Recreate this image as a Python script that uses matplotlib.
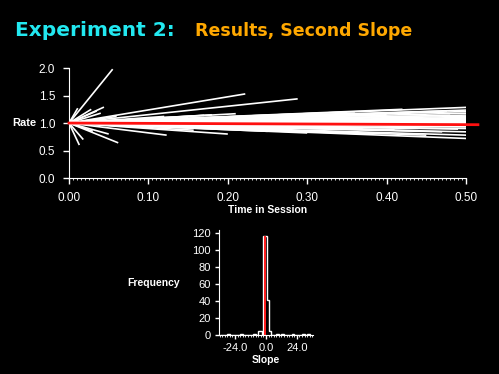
import numpy as np
import matplotlib
matplotlib.use("Agg")
import matplotlib.pyplot as plt
from matplotlib.ticker import MultipleLocator

plt.rcParams['font.family'] = ['Liberation Sans', 'DejaVu Sans']

# 上图：每条线从 (0, 1.0) 出发，到达 (end_x, end_y)
line_end_x = [0.055, 0.011, 0.044, 0.035, 0.028, 0.040, 0.013, 0.018, 0.062, 0.050,
              0.030, 0.060, 0.123, 0.157, 0.222, 0.288, 0.200, 0.180, 0.250, 0.150,
              0.300, 0.350, 0.380, 0.420, 0.450, 0.476, 0.330, 0.280, 0.400, 0.440,
              0.120, 0.140, 0.170, 0.190, 0.210, 0.230, 0.260, 0.270, 0.310, 0.320,
              0.340, 0.360, 0.370, 0.390, 0.410, 0.430, 0.460, 0.470, 0.480, 0.490,
              0.500, 0.500, 0.500, 0.500, 0.500, 0.500, 0.500, 0.500, 0.500, 0.500,
              0.500, 0.500, 0.500, 0.500, 0.500, 0.500, 0.500, 0.500, 0.500, 0.500,
              0.500, 0.500, 0.500, 0.500, 0.500, 0.500, 0.500, 0.500, 0.500, 0.500,
              0.500, 0.500, 0.500, 0.500, 0.500, 0.500]
line_end_y = [1.98, 1.27, 1.29, 1.22, 1.25, 1.18, 0.60, 0.70, 0.64, 0.80,
              0.85, 1.12, 0.78, 0.87, 1.53, 1.44, 0.80, 1.15, 0.85, 1.10,
              0.82, 1.20, 0.80, 1.25, 0.78, 1.22, 1.12, 0.88, 1.15, 0.86,
              1.12, 1.08, 1.14, 0.92, 1.17, 1.06, 1.13, 0.90, 1.16, 0.94,
              1.09, 1.18, 0.91, 1.11, 0.88, 1.19, 1.07, 0.84, 1.14, 0.89,
              1.285, 1.236, 1.21, 1.18, 1.145, 1.12, 1.10, 1.085, 1.07, 1.06,
              1.055, 1.05, 1.045, 1.04, 1.035, 1.03, 1.025, 1.02, 1.015, 1.01,
              1.00, 0.99, 0.985, 0.98, 0.975, 0.97, 0.965, 0.96, 0.955, 0.95,
              0.94, 0.93, 0.90, 0.84, 0.78, 0.72]
red_x = [0.0, 0.515]
red_y = [1.0, 0.97]

x_ticks = [0.0, 0.1, 0.2, 0.3, 0.4, 0.5]
x_labels = ['0.00', '0.10', '0.20', '0.30', '0.40', '0.50']
y_ticks = [0.0, 0.5, 1.0, 1.5, 2.0]

# 下图：斜率直方图
bin_edges = [-36, -30, -28, -20, -18, -10, -8, -6, -2.9, -2.3, 0.5, 2.1, 4.0,
             8, 10, 12, 14, 20, 22, 28, 30, 32, 34]
bin_counts = [0, 1, 0, 1, 0, 1, 0, 5, 0, 117, 41, 5,
              0, 1, 0, 1, 0, 1, 0, 1, 0, 1]
h_ticks = [-24, 0, 24]
h_labels = ['-24.0', '0.0', '24.0']
f_ticks = [0, 20, 40, 60, 80, 100, 120]

fig = plt.figure(figsize=(4.99, 3.74), dpi=100, facecolor='black')

fig.text(0.030, 0.918, 'Experiment 2:', color='#22e8f0', fontsize=14.5,
         fontweight='bold', ha='left', va='center', family='DejaVu Sans')
fig.text(0.391, 0.918, 'Results, Second Slope', color='#ffa800', fontsize=12.5,
         fontweight='bold', ha='left', va='center', family='DejaVu Sans')

# 上图
ax = fig.add_axes([0.1383, 0.524, 0.7956, 0.294], facecolor='black')
for ex, ey in zip(line_end_x, line_end_y):
    ax.plot([0, ex], [1.0, ey], color='white', lw=1.2, solid_capstyle='butt')
ax.plot(red_x, red_y, color='#ff1010', lw=2.0, clip_on=False, zorder=5)
ax.set_xlim(0, 0.5)
ax.set_ylim(0, 2.0)
ax.set_xticks(x_ticks)
ax.set_xticklabels(x_labels)
ax.set_yticks(y_ticks)
ax.xaxis.set_minor_locator(MultipleLocator(0.005))
for s in ['top', 'right']:
    ax.spines[s].set_visible(False)
for s in ['left', 'bottom']:
    ax.spines[s].set_color('white')
ax.tick_params(colors='white', labelsize=8.5, length=4, width=1, pad=6)
ax.tick_params(axis='x', which='minor', colors='white', length=1.5)
ax.set_xlabel('Time in Session', color='white', fontsize=7.5,
              fontweight='bold', labelpad=1)
ax.set_ylabel('Rate', color='white', fontsize=8, fontweight='bold',
              rotation=0, ha='right', va='center')
ax.yaxis.set_label_coords(-0.082, 0.5)

# 下图
bx = fig.add_axes([0.439, 0.104, 0.188, 0.281], facecolor='black')
bx.stairs(bin_counts, bin_edges, color='white', lw=1.0)
bx.bar([-0.9], [117], width=1.2, color='#ff2020', align='center')
bx.set_xlim(-36.4, 36.4)
bx.set_ylim(0, 124)
bx.set_xticks(h_ticks)
bx.set_xticklabels(h_labels)
bx.set_yticks(f_ticks)
bx.xaxis.set_minor_locator(MultipleLocator(2))
for s in ['top', 'right']:
    bx.spines[s].set_visible(False)
for s in ['left', 'bottom']:
    bx.spines[s].set_color('white')
bx.tick_params(colors='white', labelsize=8, length=3, width=1, pad=3)
bx.tick_params(axis='x', which='minor', colors='white', length=1.5)
bx.set_xlabel('Slope', color='white', fontsize=7.5, fontweight='bold', labelpad=1)
bx.set_ylabel('Frequency', color='white', fontsize=7.5, fontweight='bold',
              rotation=0, ha='right', va='center')
bx.yaxis.set_label_coords(-0.42, 0.5)

fig.savefig('out.png', dpi=100, facecolor='black')
